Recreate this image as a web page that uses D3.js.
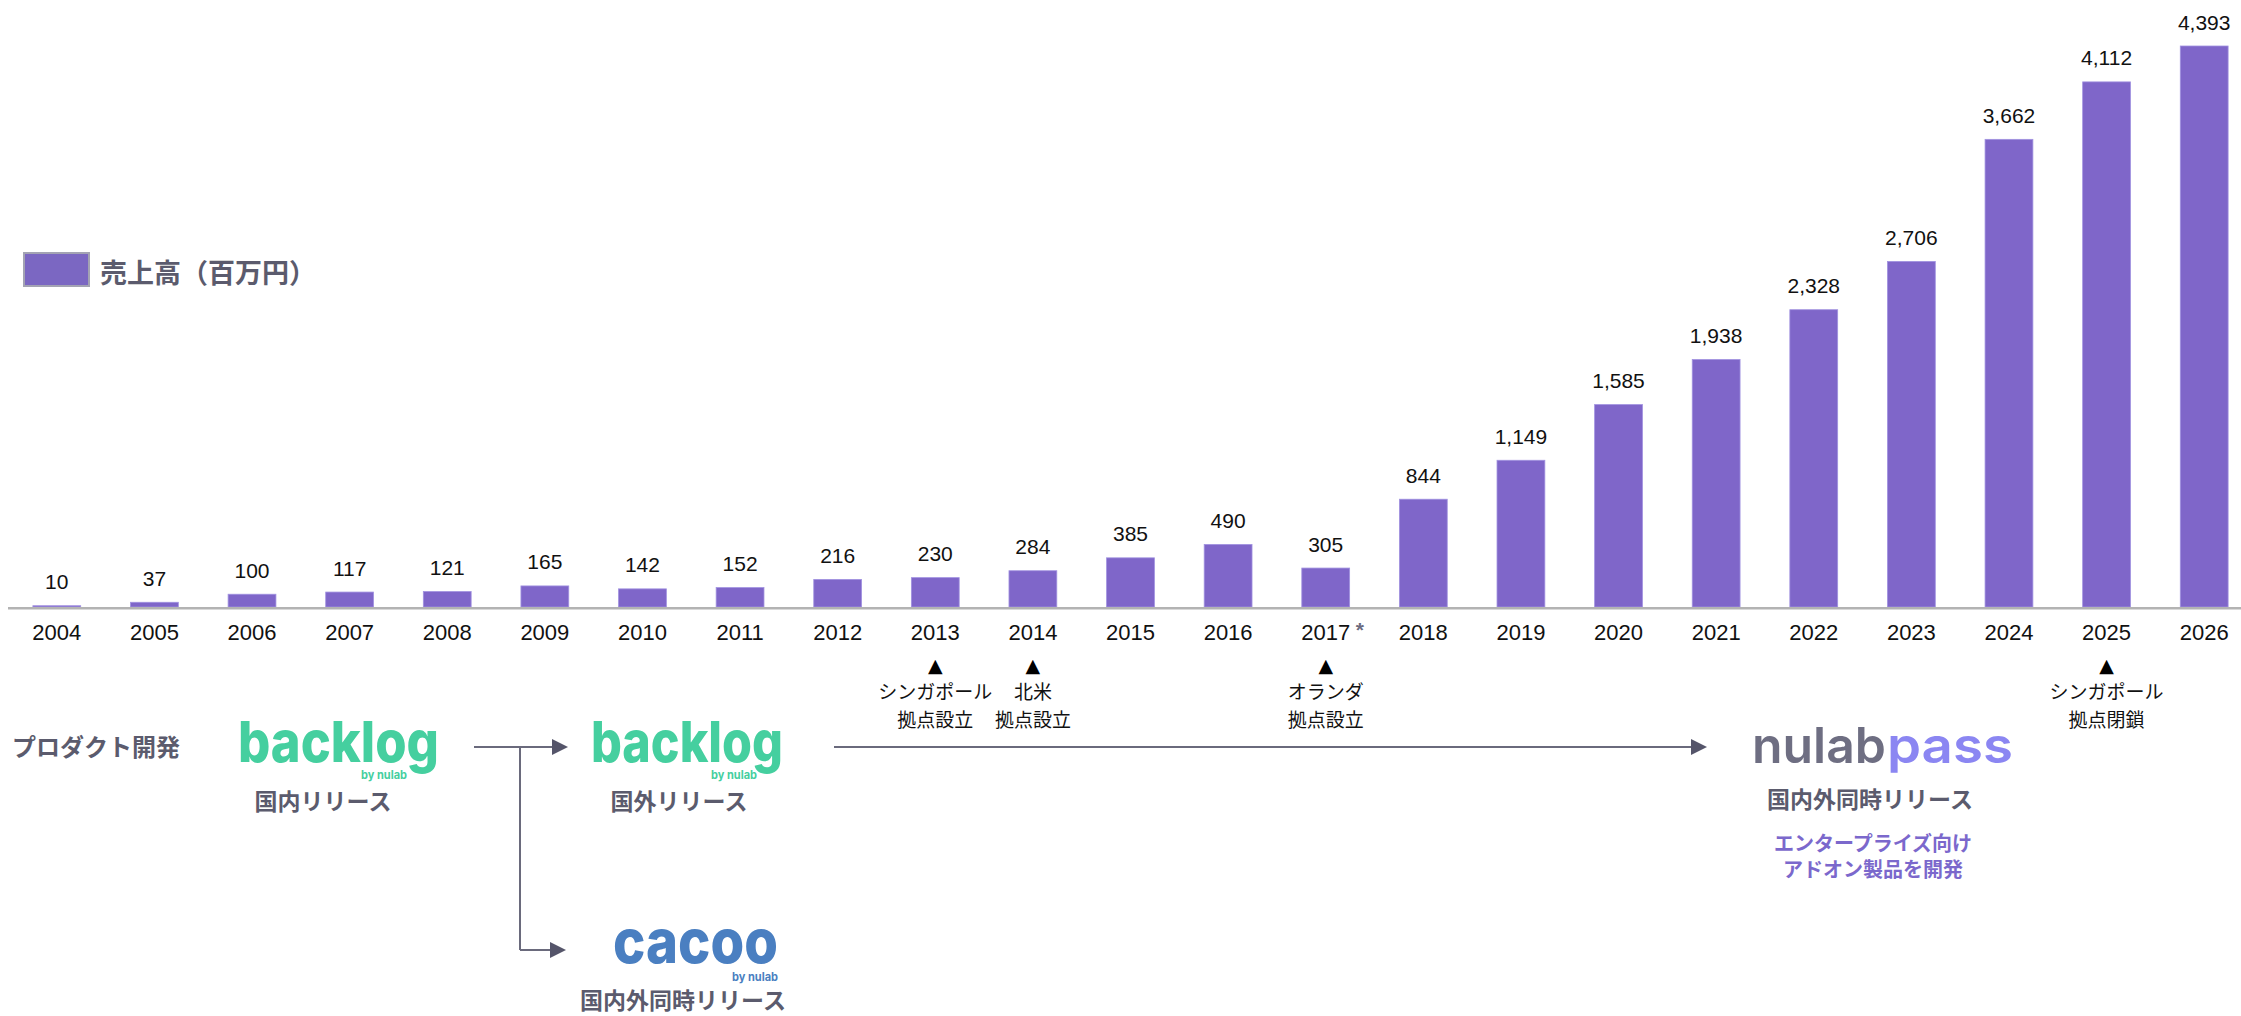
<!DOCTYPE html>
<html><head><meta charset="utf-8">
<script src="https://cdn.jsdelivr.net/npm/d3@7"></script>
<style>body{margin:0;background:#fff;} svg{display:block;}</style>
</head><body>
<svg id="c" width="2241" height="1016"></svg>
<script>
// ---- data ----
const years = ["2004","2005","2006","2007","2008","2009","2010","2011","2012","2013","2014","2015","2016","2017","2018","2019","2020","2021","2022","2023","2024","2025","2026"];
const sales = [10,37,100,117,121,165,142,152,216,230,284,385,490,305,844,1149,1585,1938,2328,2706,3662,4112,4393];
const legendLabel = "売上高（百万円）";
const starredYears = ["2017"];
const milestoneYears = ["2013","2014","2017","2025"];
const milestoneLine1 = ["シンガポール","北米","オランダ","シンガポール"];
const milestoneLine2 = ["拠点設立","拠点設立","拠点設立","拠点閉鎖"];
const productHeading = "プロダクト開発";
const captionBacklogJP = "国内リリース";
const captionBacklogGlobal = "国外リリース";
const captionSimul = "国内外同時リリース";
const passNotes = ["エンタープライズ向け","アドオン製品を開発"];

// ---- setup ----
const svg = d3.select("#c");
const W = 2241;
const data = years.map((y,i)=>({year:y, value:sales[i]}));
const x = d3.scaleBand().domain(years).range([8, 2253]).paddingInner(0.51).paddingOuter(0.255);
const y = d3.scaleLinear().domain([0, d3.max(sales)]).range([607, 46]);
const cx = yr => x(yr) + x.bandwidth()/2;

const GRAY = "#5b5b6d";
const CJK = "'Noto Sans CJK JP', sans-serif";
const LAT = "'Liberation Sans', Arial, sans-serif";

// bars
svg.append("g").selectAll("rect").data(data).join("rect")
  .attr("x", d=>x(d.year)).attr("width", x.bandwidth())
  .attr("y", d=>y(d.value)).attr("height", d=>y(0)-y(d.value))
  .attr("fill", "#7f66c9").attr("stroke", "#a192e0").attr("stroke-width", 0.8);

// value labels
svg.append("g").selectAll("text").data(data).join("text")
  .attr("x", d=>cx(d.year)).attr("y", d=>y(d.value)-16.5)
  .attr("text-anchor","middle").attr("font-family",LAT).attr("font-size",21).attr("fill","#111")
  .text(d=>d3.format(",")(d.value));

// baseline
svg.append("line").attr("x1",8).attr("x2",W).attr("y1",608.2).attr("y2",608.2)
  .attr("stroke","#b3b3b3").attr("stroke-width",2.6);

// x axis labels
const xAxis = svg.append("g").attr("transform","translate(0,608)")
  .call(d3.axisBottom(x).tickSize(0).tickPadding(16));
xAxis.select(".domain").remove();
xAxis.selectAll("text").attr("font-family",LAT).attr("font-size",22).attr("fill","#111");

// asterisk
svg.selectAll("text.star").data(starredYears).join("text").attr("class","star")
  .attr("x", d=>cx(d)+30).attr("y", 637).attr("font-family",LAT).attr("font-weight",700)
  .attr("font-size",21).attr("fill","#6b6b80").text("*");

// milestones
const ms = svg.append("g").selectAll("g").data(milestoneYears).join("g")
  .attr("transform", d=>`translate(${cx(d)},0)`);
ms.append("text").attr("y",665).attr("dominant-baseline","central").attr("text-anchor","middle")
  .attr("font-family","'DejaVu Sans', sans-serif").attr("font-size",19).attr("fill","#000").text("▲");
ms.append("text").attr("y",690).attr("dominant-baseline","central").attr("text-anchor","middle")
  .attr("font-family",CJK).attr("font-size",19).attr("fill","#111").text((d,i)=>milestoneLine1[i]);
ms.append("text").attr("y",718).attr("dominant-baseline","central").attr("text-anchor","middle")
  .attr("font-family",CJK).attr("font-size",19).attr("fill","#111").text((d,i)=>milestoneLine2[i]);

// legend
svg.append("rect").attr("x",24).attr("y",253).attr("width",65).attr("height",33)
  .attr("fill","#7b67c2").attr("stroke","#a3a3b3").attr("stroke-width",2);
svg.append("text").attr("x",100).attr("y",271).attr("dominant-baseline","central")
  .attr("font-family",CJK).attr("font-weight",700).attr("font-size",27).attr("fill",GRAY).text(legendLabel);

// product heading
svg.append("text").attr("x",12).attr("y",745).attr("dominant-baseline","central")
  .attr("font-family",CJK).attr("font-weight",700).attr("font-size",24).attr("fill",GRAY).text(productHeading);

// logos (word mark + "by nulab" in one text element)
function logo(txt, x0, base, size, len, color, byEndX, byBase){
  const t = svg.append("text").attr("font-family","Inter, 'Noto Sans', sans-serif").attr("fill",color);
  t.append("tspan").attr("x",x0).attr("y",base).attr("font-weight",800).attr("font-size",size)
    .attr("textLength",len).attr("lengthAdjust","spacingAndGlyphs").text(txt);
  t.append("tspan").attr("x",byEndX-46).attr("y",byBase).attr("font-weight",700).attr("font-size",11.5)
    .attr("textLength",46).attr("lengthAdjust","spacingAndGlyphs").text("by nulab");
}
const GREEN = "#45cf9f", BLUE = "#4a7fc1";
logo("backlog", 238, 762, 57, 201, GREEN, 407, 779);
logo("backlog", 591, 762, 57, 192, GREEN, 757, 779);
logo("cacoo", 613, 963, 62, 165, BLUE, 778, 981);
const np = svg.append("text").attr("font-family","Inter, 'Noto Sans', sans-serif").attr("font-weight",600).attr("font-size",50);
np.append("tspan").attr("x",1752).attr("y",763).attr("fill","#6e6e82")
  .attr("textLength",134).attr("lengthAdjust","spacingAndGlyphs").text("nulab");
np.append("tspan").attr("x",1887).attr("y",763).attr("fill","#8b86f2")
  .attr("textLength",126).attr("lengthAdjust","spacingAndGlyphs").text("pass");

// captions
function caption(txt, xc, yc, size, color){
  svg.append("text").attr("x",xc).attr("y",yc).attr("text-anchor","middle").attr("dominant-baseline","central")
    .attr("font-family",CJK).attr("font-weight",700).attr("font-size",size).attr("fill",color).text(txt);
}
caption(captionBacklogJP, 323, 800, 23, GRAY);
caption(captionBacklogGlobal, 679, 800, 23, GRAY);
caption(captionSimul, 683, 999, 23, GRAY);
caption(captionSimul, 1870, 798, 23, GRAY);
caption(passNotes[0], 1873, 842, 20, "#7b68cc");
caption(passNotes[1], 1873, 868, 20, "#7b68cc");

// arrows
const LINE = "#6a6a7c", HEAD = "#55556a";
function hArrow(x1, x2, yy){
  svg.append("line").attr("x1",x1).attr("x2",x2-14).attr("y1",yy).attr("y2",yy).attr("stroke",LINE).attr("stroke-width",2);
  svg.append("path").attr("d",`M${x2},${yy} L${x2-16},${yy-8} L${x2-16},${yy+8} Z`).attr("fill",HEAD);
}
hArrow(474, 568, 747);
svg.append("line").attr("x1",520).attr("x2",520).attr("y1",747).attr("y2",950).attr("stroke",LINE).attr("stroke-width",2);
hArrow(520, 566, 950);
hArrow(834, 1707, 747);
</script>
</body></html>
